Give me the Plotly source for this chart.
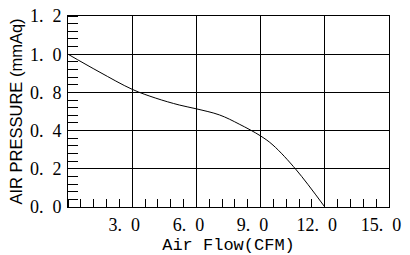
import numpy as np
import plotly.graph_objects as go

# Data
air_flow = [0.0, 1.45, 3.0, 4.1, 5.2, 6.0, 7.08, 8.0, 9.0, 9.58, 10.67, 12.0]
air_pressure = [1.0, 0.908, 0.816, 0.74, 0.668, 0.628, 0.564, 0.468, 0.372, 0.324, 0.194, 0.0]

x_tick_vals = [3, 6, 9, 12, 15]
x_tick_text = ["3.0", "6.0", "9.0", "12.0", "15.0"]
y_tick_labels = ["0.0", "0.2", "0.4", "0.8", "1.0", "1.2"]

# The printed y axis is evenly spaced over these labels
y_label_vals = [float(v) for v in y_tick_labels]
y_positions = list(range(len(y_tick_labels)))
y_plot = np.interp(air_pressure, y_label_vals, y_positions)

def spaced(s):
    return s.replace(".", ".\u2002")

fig = go.Figure()
fig.add_trace(go.Scatter(x=air_flow, y=y_plot, mode="lines",
                         line=dict(color="black", width=1), line_shape="spline",
                         hoverinfo="skip", showlegend=False))

tick_font = dict(family="Liberation Serif", size=18, color="black")

fig.update_xaxes(range=[0, 15], tickvals=x_tick_vals,
                 ticktext=[spaced(t) for t in x_tick_text], automargin=False,
                 showgrid=True, gridcolor="black", gridwidth=1,
                 showline=True, linecolor="black", linewidth=1, mirror=True,
                 ticks="", tickfont=tick_font, ticklabelshift=-8, ticklabelstandoff=1,
                 minor=dict(dtick=0.6, tick0=0, ticks="inside", ticklen=8,
                            tickcolor="black", tickwidth=1, showgrid=False),
                 zeroline=False,
                 title=dict(text="Air Flow(CFM)", standoff=7,
                            font=dict(family="Liberation Mono", size=17, color="black")))
fig.update_yaxes(range=[0, 5], tickvals=y_positions,
                 ticktext=[spaced(t) for t in y_tick_labels], automargin=False,
                 showgrid=True, gridcolor="black", gridwidth=1,
                 showline=True, linecolor="black", linewidth=1, mirror=True,
                 ticks="", tickfont=tick_font, ticklabelstandoff=2,
                 minor=dict(dtick=0.2, tick0=0, ticks="inside", ticklen=10,
                            tickcolor="black", tickwidth=1, showgrid=False),
                 zeroline=False,
                 title=dict(text="AIR PRESSURE (mmAq)", standoff=3,
                            font=dict(family="Liberation Sans", size=16.5, color="black")))

fig.update_layout(width=410, height=255, margin=dict(l=68, r=21, t=16, b=48),
                  paper_bgcolor="white", plot_bgcolor="white")

fig.write_html("out.html")
